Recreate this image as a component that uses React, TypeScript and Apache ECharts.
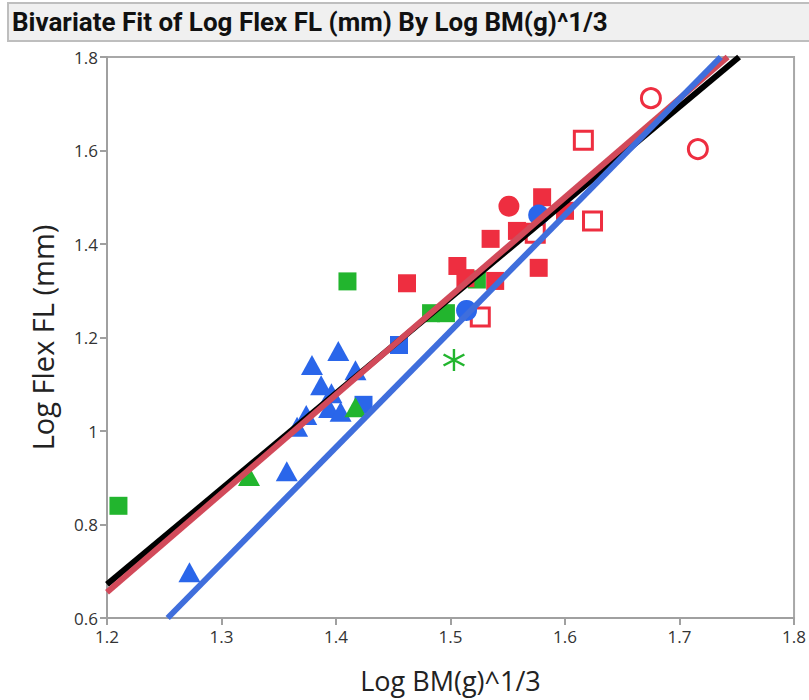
import React, { useEffect, useRef } from 'react';
import * as echarts from 'echarts';

const titleText = 'Bivariate Fit of Log Flex FL (mm) By Log BM(g)^1/3';
const xName = 'Log BM(g)^1/3';
const yName = 'Log Flex FL (mm)';
const xTickLabels = ['1.2', '1.3', '1.4', '1.5', '1.6', '1.7', '1.8'];
const yTickLabels = ['0.6', '0.8', '1', '1.2', '1.4', '1.6', '1.8'];

// Scatter groups [x, y]
const blueTriangles = [
  [1.272, 0.698], [1.357, 0.914], [1.366, 1.009], [1.374, 1.034],
  [1.394, 1.049], [1.404, 1.041], [1.396, 1.081], [1.387, 1.098],
  [1.379, 1.141], [1.402, 1.171], [1.417, 1.130],
];
const greenSquares = [[1.21, 0.84], [1.41, 1.32], [1.483, 1.252], [1.496, 1.252], [1.523, 1.324]];
const greenTriangles = [[1.324, 0.904], [1.417, 1.051]];
const greenStars = [[1.503, 1.152]];
const redSquares = [
  [1.462, 1.316], [1.506, 1.353], [1.513, 1.327], [1.539, 1.321], [1.535, 1.411],
  [1.558, 1.428], [1.580, 1.500], [1.600, 1.471], [1.577, 1.349],
];
const redOpenSquares = [[1.526, 1.244], [1.574, 1.423], [1.624, 1.449], [1.616, 1.622]];
const redCircles = [[1.551, 1.481]];
const redOpenCircles = [[1.675, 1.712], [1.716, 1.603]];
const blueSquares = [[1.424, 1.056], [1.455, 1.184]];
const blueCircles = [[1.514, 1.258], [1.577, 1.462]];

// Fit lines (end points)
const fitBlack = [[1.2, 0.672], [1.752, 1.8]];
const fitRed = [[1.2, 0.655], [1.742, 1.8]];
const fitBlue = [[1.253, 0.6], [1.736, 1.8]];

const RED = '#EE2E40';
const BLUE = '#2A66EA';
const GREEN = '#22B52E';

const STAR =
  'path://M45 0 L55 0 L55 100 L45 100 Z M4.2 29.33 L9.2 20.67 L95.8 70.67 L90.8 79.33 Z M90.8 20.67 L95.8 29.33 L9.2 79.33 L4.2 70.67 Z';

function scatter(data: number[][], symbol: string, size: any, color: string, open = false, z = 2) {
  return {
    type: 'scatter',
    data,
    symbol,
    symbolSize: size,
    z,
    itemStyle: open
      ? { color: '#ffffff', borderColor: color, borderWidth: 3, opacity: 1 }
      : { color, opacity: 1 },
    emphasis: { disabled: true },
  };
}

function fit(data: number[][], color: string, width: number, z: number) {
  return {
    type: 'line',
    data,
    symbol: 'none',
    z,
    lineStyle: { color, width, cap: 'butt' },
    emphasis: { disabled: true },
  };
}

export default function App() {
  const ref = useRef<HTMLDivElement>(null);
  useEffect(() => {
    if (!ref.current) return;
    const chart = echarts.init(ref.current, undefined, { renderer: 'svg' });
    chart.setOption({
      animation: false,
      backgroundColor: '#ffffff',
      graphic: [
        {
          type: 'rect',
          shape: { x: 8, y: 3, width: 820, height: 38 },
          style: { fill: '#F0F0F0', stroke: '#BEBEBE', lineWidth: 2 },
          z: 10,
        },
        {
          type: 'text',
          x: 12,
          y: 22,
          style: {
            text: titleText,
            font: 'bold 26px Roboto',
            fill: '#111111',
            verticalAlign: 'middle',
          },
          z: 11,
        },
      ],
      grid: {
        left: 107,
        top: 57,
        width: 691,
        height: 561,
        show: true,
        borderColor: '#A8A8A8',
        borderWidth: 2,
        backgroundColor: 'transparent',
      },
      xAxis: {
        type: 'value',
        min: 1.2,
        max: 1.8,
        interval: 0.1,
        name: xName,
        nameLocation: 'middle',
        nameGap: 49,
        nameTextStyle: { fontFamily: 'Open Sans', fontSize: 27, color: '#222' },
        axisLine: { show: true, lineStyle: { color: '#A0A0A0', width: 2 } },
        axisTick: { show: true, length: 7, lineStyle: { color: '#A0A0A0', width: 2 } },
        axisLabel: {
          fontFamily: 'Open Sans',
          fontSize: 17,
          color: '#333',
          margin: 10,
          formatter: (_v: number, i: number) => xTickLabels[i],
        },
        splitLine: { show: false },
      },
      yAxis: {
        type: 'value',
        min: 0.6,
        max: 1.8,
        interval: 0.2,
        name: yName,
        nameLocation: 'middle',
        nameGap: 50,
        nameTextStyle: { fontFamily: 'Open Sans', fontSize: 29, color: '#222' },
        axisLine: { show: true, lineStyle: { color: '#A0A0A0', width: 2 } },
        axisTick: { show: true, length: 7, lineStyle: { color: '#A0A0A0', width: 2 } },
        axisLabel: {
          fontFamily: 'Open Sans',
          fontSize: 17,
          color: '#333',
          margin: 9,
          formatter: (_v: number, i: number) => yTickLabels[i],
        },
        splitLine: { show: false },
      },
      series: [
        scatter(blueTriangles, 'triangle', [22, 20], BLUE, false, 2),
        scatter(blueSquares, 'rect', 18, BLUE, false, 2),
        scatter(greenSquares, 'rect', 18, GREEN, false, 3),
        scatter(greenTriangles, 'triangle', [22, 20], GREEN, false, 3),
        scatter(greenStars, STAR, 22, GREEN, false, 3),
        scatter(redSquares, 'rect', 18, RED, false, 4),
        scatter(redCircles, 'circle', 21, RED, false, 4),
        scatter(redOpenSquares, 'rect', 18, RED, true, 4),
        scatter(redOpenCircles, 'circle', 19, RED, true, 4),
        scatter(blueCircles, 'circle', 21, BLUE, false, 5),
        fit(fitBlack, '#000000', 6, 6),
        fit(fitRed, '#D24A5A', 6, 7),
        fit(fitBlue, '#3F6EDC', 6, 8),
      ],
    });
    return () => chart.dispose();
  }, []);
  return (
    <div
      ref={ref}
      style={{ position: 'absolute', left: 0, top: 0, width: 809, height: 700 }}
    />
  );
}
